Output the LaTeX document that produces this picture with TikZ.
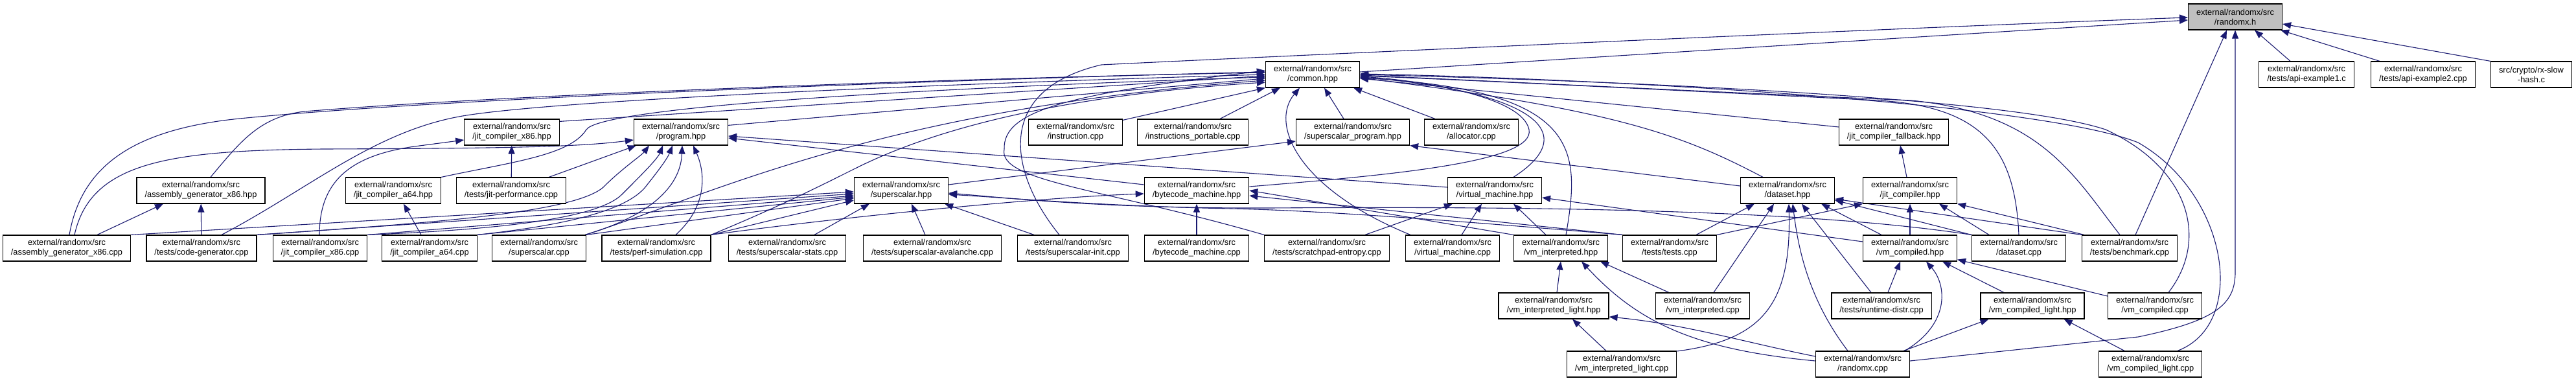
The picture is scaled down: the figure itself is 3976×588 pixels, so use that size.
\documentclass[tikz,border=0pt]{standalone}
\usepackage{fontspec}
\setmainfont{Liberation Sans}
\usetikzlibrary{arrows.meta,calc,backgrounds}
\definecolor{dxNavy}{HTML}{191970}
\definecolor{dxGray}{HTML}{BFBFBF}

\begin{document}
\begin{tikzpicture}[x=1pt,y=-1pt,
  file/.style={draw=black,line width=1.2pt,fill=white,align=center,
    minimum height=40pt,inner xsep=12.5pt,inner ysep=2pt,
    font=\fontsize{12.85}{15}\selectfont},
  focus/.style={file,fill=dxGray},
  inc/.style={draw=dxNavy,line width=1.1pt,-{Triangle[length=13pt,width=10pt]}}]
  \useasboundingbox (0,0) rectangle (3976,588);
  % ---- row 0 ----
  \node[focus] (rxh) at (3450,26) {external/randomx/src\\/randomx.h};
  % ---- row 1 ----
  \node[file] (common) at (2026,115) {external/randomx/src\\/common.hpp};
  \node[file] (api1) at (3560,115) {external/randomx/src\\/tests/api-example1.c};
  \node[file] (api2) at (3740,115) {external/randomx/src\\/tests/api-example2.cpp};
  \node[file] (rxslow) at (3907,115) {src/crypto/rx-slow\\-hash.c};
  % ---- row 2 ----
  \node[file] (jitx86h) at (790,204) {external/randomx/src\\/jit\_compiler\_x86.hpp};
  \node[file] (program) at (1051,204) {external/randomx/src\\/program.hpp};
  \node[file] (instr) at (1660,204) {external/randomx/src\\/instruction.cpp};
  \node[file] (instrp) at (1841,204) {external/randomx/src\\/instructions\_portable.cpp};
  \node[file] (ssprog) at (2088,204) {external/randomx/src\\/superscalar\_program.hpp};
  \node[file] (alloc) at (2271,204) {external/randomx/src\\/allocator.cpp};
  \node[file] (jitfb) at (2923,204) {external/randomx/src\\/jit\_compiler\_fallback.hpp};
  % ---- row 3 ----
  \node[file] (asmhpp) at (310,294) {external/randomx/src\\/assembly\_generator\_x86.hpp};
  \node[file] (jita64h) at (607,294) {external/randomx/src\\/jit\_compiler\_a64.hpp};
  \node[file] (jitperf) at (789,294) {external/randomx/src\\/tests/jit-performance.cpp};
  \node[file] (sshpp) at (1391,294) {external/randomx/src\\/superscalar.hpp};
  \node[file] (bcmh) at (1847,294) {external/randomx/src\\/bytecode\_machine.hpp};
  \node[file] (vmh) at (2307,294) {external/randomx/src\\/virtual\_machine.hpp};
  \node[file] (dsh) at (2759,294) {external/randomx/src\\/dataset.hpp};
  \node[file] (jitc) at (2948,294) {external/randomx/src\\/jit\_compiler.hpp};
  % ---- row 4 ----
  \node[file] (asmcpp) at (103,383) {external/randomx/src\\/assembly\_generator\_x86.cpp};
  \node[file] (codegen) at (311,383) {external/randomx/src\\/tests/code-generator.cpp};
  \node[file] (jitx86cpp) at (494,383) {external/randomx/src\\/jit\_compiler\_x86.cpp};
  \node[file] (jita64cpp) at (663,383) {external/randomx/src\\/jit\_compiler\_a64.cpp};
  \node[file] (sscpp) at (832,383) {external/randomx/src\\/superscalar.cpp};
  \node[file] (perfsim) at (1013,383) {external/randomx/src\\/tests/perf-simulation.cpp};
  \node[file] (ssstats) at (1215,383) {external/randomx/src\\/tests/superscalar-stats.cpp};
  \node[file] (ssaval) at (1439,383) {external/randomx/src\\/tests/superscalar-avalanche.cpp};
  \node[file] (ssinit) at (1656,383) {external/randomx/src\\/tests/superscalar-init.cpp};
  \node[file] (bccpp) at (1847,383) {external/randomx/src\\/bytecode\_machine.cpp};
  \node[file] (scratch) at (2048,383) {external/randomx/src\\/tests/scratchpad-entropy.cpp};
  \node[file] (vmcpp) at (2242,383) {external/randomx/src\\/virtual\_machine.cpp};
  \node[file] (vmih) at (2409,383) {external/randomx/src\\/vm\_interpreted.hpp};
  \node[file] (tests) at (2577,383) {external/randomx/src\\/tests/tests.cpp};
  \node[file] (vmch) at (2948,383) {external/randomx/src\\/vm\_compiled.hpp};
  \node[file] (dscpp) at (3116,383) {external/randomx/src\\/dataset.cpp};
  \node[file] (bench) at (3287,383) {external/randomx/src\\/tests/benchmark.cpp};
  % ---- row 5 ----
  \node[file] (vmilh) at (2398,472) {external/randomx/src\\/vm\_interpreted\_light.hpp};
  \node[file] (vmicpp) at (2628,472) {external/randomx/src\\/vm\_interpreted.cpp};
  \node[file] (rtdistr) at (2904,472) {external/randomx/src\\/tests/runtime-distr.cpp};
  \node[file] (vmclh) at (3137,472) {external/randomx/src\\/vm\_compiled\_light.hpp};
  \node[file] (vmccpp) at (3326,472) {external/randomx/src\\/vm\_compiled.cpp};
  % ---- row 6 ----
  \node[file] (vmilcpp) at (2503,562) {external/randomx/src\\/vm\_interpreted\_light.cpp};
  \node[file] (rxcpp) at (2875,562) {external/randomx/src\\/randomx.cpp};
  \node[file] (vmclcpp) at (3319,562) {external/randomx/src\\/vm\_compiled\_light.cpp};

  \begin{scope}[on background layer]
    % ---- into randomx.h ----
    \draw[inc] ($(common.east)+(0,-4)$) -- ($(rxh.west)+(0,5)$);
    \draw[inc] ($(ssinit.north)+(-21,0)$) .. controls (1560,270) and (1530,140) .. (1700,100)
      .. controls (1900,90) and (3000,40) .. ($(rxh.west)+(0,1)$);
    \draw[inc] ($(bench.north)+(9,0)$) -- ($(rxh.south)+(-13,0)$);
    \draw[inc] ($(rxcpp.east)+(0,-5)$) -- (3300,520) .. controls (3420,495) and (3450,470) .. (3450,420) -- (rxh.south);
    \draw[inc] ($(api1.north)+(-25,0)$) -- ($(rxh.south)+(30,0)$);
    \draw[inc] ($(api2.north)+(-67,0)$) -- ($(rxh.south east)+(-3,0)$);
    \draw[inc] (rxslow.north west) -- ($(rxh.east)+(0,11)$);
    % ---- into common.hpp ----
    \draw[inc] ($(asmcpp.north)+(4,0)$) .. controls (125,260) and (200,200) .. (370,183)
      .. controls (700,150) and (1500,122) .. ($(common.west)+(0,-4)$);
    \draw[inc] ($(asmhpp.north)+(15,0)$) .. controls (370,220) and (400,180) .. (470,172)
      .. controls (800,145) and (1500,120) .. ($(common.west)+(0,-3)$);
    \draw[inc] ($(codegen.north)+(31,0)$) .. controls (480,290) and (580,200) .. (720,178)
      .. controls (900,150) and (1600,125) .. ($(common.west)+(0,0)$);
    \draw[inc] ($(jitx86h.north east)+(0,4)$) -- ($(common.west)+(0,2)$);
    \draw[inc] (jita64h.north east) .. controls (790,250) and (880,240) .. (905,200)
      .. controls (925,170) and (1300,140) .. ($(common.west)+(0,4)$);
    \draw[inc] ($(program.north east)+(0,10)$) -- ($(common.west)+(0,6)$);
    \draw[inc] ($(sscpp.north east)+(-2,0)$) .. controls (1100,300) and (1350,170) .. ($(common.west)+(0,9)$);
    \draw[inc] (perfsim.north east) .. controls (1200,320) and (1260,290) .. (1320,260)
      .. controls (1420,210) and (1600,150) .. ($(common.west)+(0,12)$);
    \draw[inc] ($(instr.north east)+(0,2)$) -- (common.south west);
    \draw[inc] ($(instrp.north)+(42,0)$) -- ($(common.south west)+(23,0)$);
    \draw[inc] (scratch.north west) .. controls (1700,290) and (1540,280) .. (1550,230)
      .. controls (1548,170) and (1650,145) .. ($(common.west)+(0,-6)$);
    \draw[inc] ($(vmcpp.north west)+(8,0)$) .. controls (2000,290) and (1960,190) .. ($(common.south)+(-20,0)$);
    \draw[inc] ($(ssprog.north)+(-14,0)$) -- ($(common.south)+(18,0)$);
    \draw[inc] ($(alloc.north)+(-56,0)$) -- ($(common.south east)+(-10,0)$);
    \draw[inc] ($(bcmh.east)+(0,-6)$) .. controls (2150,270) and (2370,250) .. (2360,200)
      .. controls (2350,150) and (2200,125) .. ($(common.east)+(0,3)$);
    \draw[inc] ($(vmh.north)+(29,0)$) .. controls (2450,200) and (2350,140) .. ($(common.east)+(0,4)$);
    \draw[inc] ($(vmih.north)+(8,0)$) .. controls (2440,230) and (2440,140) .. ($(common.east)+(0,5)$);
    \draw[inc] ($(jitfb.west)+(0,-8)$) -- ($(common.east)+(0,6)$);
    \draw[inc] ($(dsh.north)+(-38,0)$) .. controls (2600,210) and (2500,170) .. ($(common.east)+(0,5)$);
    \draw[inc] (dscpp.north) .. controls (3110,230) and (3060,165) .. (2900,155)
      .. controls (2600,140) and (2300,125) .. ($(common.east)+(0,2)$);
    \draw[inc] ($(bench.north)+(-15,0)$) .. controls (3200,270) and (3150,175) .. (2950,155)
      .. controls (2600,140) and (2300,125) .. ($(common.east)+(0,1)$);
    \draw[inc] ($(vmccpp.north)+(21,0)$) .. controls (3410,370) and (3380,260) .. (3250,200)
      .. controls (3100,150) and (2500,125) .. ($(common.east)+(0,0)$);
    \draw[inc] ($(vmclcpp.north)+(42,0)$) .. controls (3470,500) and (3440,300) .. (3300,220)
      .. controls (3150,160) and (2500,122) .. ($(common.east)+(0,-1)$);
    % ---- into program.hpp ----
    \draw[inc] ($(asmcpp.north)+(12,0)$) .. controls (140,250) and (260,232) .. (500,230)
      .. controls (800,229) and (900,226) .. ($(program.west)+(0,12)$);
    \draw[inc] ($(jitperf.north east)+(-27,0)$) -- ($(program.south west)+(4,0)$);
    \draw[inc] (codegen.north east) .. controls (650,345) and (880,330) .. (930,290)
      .. controls (960,260) and (990,240) .. ($(program.south)+(-49,0)$);
    \draw[inc] (jitx86cpp.north east) .. controls (750,355) and (920,340) .. (960,300)
      .. controls (990,270) and (1015,245) .. ($(program.south)+(-28,0)$);
    \draw[inc] (jita64cpp.north east) .. controls (850,350) and (960,330) .. (995,290)
      .. controls (1015,265) and (1030,245) .. ($(program.south)+(-13,0)$);
    \draw[inc] ($(sscpp.north east)+(-2,0)$) .. controls (980,340) and (1050,300) .. ($(program.south)+(2,0)$);
    \draw[inc] ($(perfsim.north)+(30,0)$) .. controls (1090,320) and (1090,270) .. ($(program.south)+(19,0)$);
    \draw[inc] ($(bcmh.west)+(0,-9)$) -- ($(program.east)+(0,9)$);
    \draw[inc] ($(vmh.west)+(0,-5)$) -- ($(program.east)+(0,6)$);
    % ---- into the jit and assembly headers ----
    \draw[inc] ($(jitx86cpp.north)+(-1,0)$) .. controls (493,280) and (540,240) .. (640,226)
      -- ($(jitx86h.west)+(0,12)$);
    \draw[inc] (jitperf) -- (jitx86h);
    \draw[inc] ($(asmcpp.north)+(47,0)$) -- ($(asmhpp.south)+(-58,0)$);
    \draw[inc] (codegen) -- (asmhpp);
    \draw[inc] ($(jita64cpp.north)+(-13,0)$) -- ($(jita64h.south)+(16,0)$);
    % ---- into superscalar.hpp ----
    \draw[inc] (asmcpp.north east) -- ($(sshpp.west)+(0,2)$);
    \draw[inc] (codegen.north east) -- ($(sshpp.west)+(0,5)$);
    \draw[inc] (jitx86cpp.north east) -- ($(sshpp.west)+(0,8)$);
    \draw[inc] (jita64cpp.north east) -- ($(sshpp.west)+(0,10)$);
    \draw[inc] (sscpp.north east) -- ($(sshpp.west)+(0,12)$);
    \draw[inc] (perfsim.north east) -- ($(sshpp.west)+(0,15)$);
    \draw[inc] ($(ssstats.north)+(42,0)$) -- ($(sshpp.south west)+(24,0)$);
    \draw[inc] ($(ssaval.north)+(-11,0)$) -- ($(sshpp.south)+(16,0)$);
    \draw[inc] ($(ssinit.north west)+(26,0)$) -- ($(sshpp.south east)+(-6,0)$);
    \draw[inc] (dscpp.north west) .. controls (2800,325) and (2400,318) .. (1960,321)
      .. controls (1700,322) and (1550,305) .. ($(sshpp.east)+(0,4)$);
    \draw[inc] (tests.north west) .. controls (2300,345) and (2050,325) .. (1900,322)
      .. controls (1700,318) and (1550,305) .. ($(sshpp.east)+(0,6)$);
    % ---- into superscalar_program.hpp ----
    \draw[inc] ($(sshpp.east)+(0,-9)$) -- ($(ssprog.west)+(0,14)$);
    \draw[inc] ($(dsh.west)+(0,-7)$) -- (ssprog.south east);
    % ---- into bytecode_machine.hpp ----
    \draw[inc] (bccpp) -- (bcmh);
    \draw[inc] (perfsim.north east) .. controls (1300,335) and (1600,305) .. ($(bcmh.west)+(0,5)$);
    \draw[inc] (vmih.north west) -- (bcmh.east);
    \draw[inc] (tests.north west) -- ($(bcmh.east)+(0,8)$);
    % ---- into virtual_machine.hpp ----
    \draw[inc] ($(scratch.north)+(59,0)$) -- ($(vmh.south west)+(8,0)$);
    \draw[inc] ($(vmcpp.north)+(14,0)$) -- ($(vmh.south)+(-20,0)$);
    \draw[inc] ($(vmih.north)+(-23,0)$) -- ($(vmh.south)+(29,0)$);
    \draw[inc] ($(vmch.west)+(0,-10)$) -- ($(vmh.east)+(0,11)$);
    % ---- into vm_interpreted.hpp ----
    \draw[inc] ($(vmilh.north)+(5,0)$) -- (vmih.south);
    \draw[inc] ($(vmicpp.north west)+(21,0)$) -- ($(vmih.south east)+(-12,0)$);
    \draw[inc] ($(rxcpp.west)+(0,-5)$) .. controls (2620,540) and (2530,500) .. ($(vmih.south east)+(-41,0)$);
    % ---- into vm_interpreted_light.hpp ----
    \draw[inc] ($(rxcpp.west)+(0,-12)$) .. controls (2700,530) and (2600,500) .. ($(vmilh.east)+(0,17)$);
    \draw[inc] ($(vmilcpp.north)+(-24,0)$) -- ($(vmilh.south)+(29,0)$);
    % ---- into dataset.hpp ----
    \draw[inc] ($(tests.north east)+(-32,0)$) -- ($(dsh.south west)+(22,0)$);
    \draw[inc] ($(vmicpp.north)+(17,0)$) -- ($(dsh.south)+(-21,0)$);
    \draw[inc] ($(vmilcpp.east)+(0,-20)$) .. controls (2720,525) and (2765,470) .. ($(dsh.south)+(2,0)$);
    \draw[inc] ($(rxcpp.north)+(-23,0)$) .. controls (2790,460) and (2775,380) .. ($(dsh.south)+(8,0)$);
    \draw[inc] ($(rtdistr.north)+(-16,0)$) -- ($(dsh.south)+(22,0)$);
    \draw[inc] ($(vmch.north west)+(29,0)$) -- ($(dsh.south east)+(-21,0)$);
    \draw[inc] (dscpp.north west) -- ($(dsh.east)+(0,15)$);
    \draw[inc] (bench.north west) -- ($(dsh.east)+(0,13)$);
    % ---- into jit_compiler.hpp ----
    \draw[inc] (tests.north east) -- (jitc.south west);
    \draw[inc] (vmch) -- (jitc);
    \draw[inc] ($(dscpp.north)+(-46,0)$) -- ($(jitc.south)+(45,0)$);
    \draw[inc] ($(bench.north west)+(4,0)$) -- (jitc.south east);
    \draw[inc] ($(jitc.north)+(-5,0)$) -- ($(jitfb.south)+(10,0)$);
    % ---- into vm_compiled.hpp ----
    \draw[inc] ($(rtdistr.north)+(10,0)$) -- ($(vmch.south)+(-15,0)$);
    \draw[inc] ($(rxcpp.north)+(65,0)$) .. controls (3010,500) and (3005,440) .. ($(vmch.south)+(25,0)$);
    \draw[inc] ($(vmclh.north)+(-44,0)$) -- ($(vmch.south east)+(-23,0)$);
    \draw[inc] ($(vmccpp.west)+(0,-15)$) -- ($(vmch.south east)+(0,-3)$);
    % ---- into vm_compiled_light.hpp ----
    \draw[inc] ($(rxcpp.north east)+(-10,0)$) -- ($(vmclh.south west)+(13,0)$);
    \draw[inc] ($(vmclcpp.north)+(-40,0)$) -- ($(vmclh.south east)+(-32,0)$);
  \end{scope}
\end{tikzpicture}
\end{document}
